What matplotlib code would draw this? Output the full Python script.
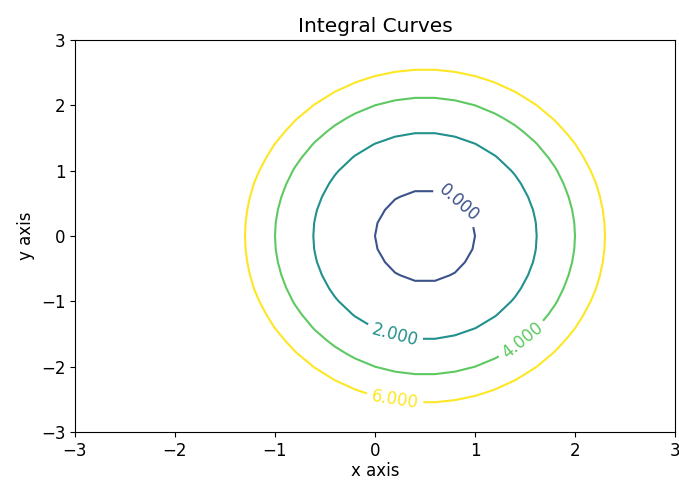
import numpy as np
import matplotlib
matplotlib.use("Agg")
import matplotlib.pyplot as plt
from matplotlib.colors import Normalize

# Grid and contour levels (integral curves of 2x^2 - 2x + y^2 = C)
x_vals = np.linspace(-3, 3, 31)
y_vals = np.linspace(-3, 3, 31)
levels = [0, 2, 4, 6]
coef_x2 = 2.0
coef_x = -2.0
coef_y2 = 1.0
x_ticks = [-3, -2, -1, 0, 1, 2, 3]
y_ticks = [-3, -2, -1, 0, 1, 2, 3]
label_pos = [(0.8, 0.45), (0.2, -1.5), (1.5, -1.65), (0.2, -2.5)]

X, Y = np.meshgrid(x_vals, y_vals)
Z = coef_x2 * X**2 + coef_x * X + coef_y2 * Y**2

fig = plt.figure(figsize=(6.79, 4.84), dpi=100)
ax = fig.add_axes([75/679, 52/484, 600/679, 392/484])
cs = ax.contour(X, Y, Z, levels=levels, cmap='viridis', norm=Normalize(-2, 6))
ax.clabel(cs, inline=True, fmt='%1.3f', fontsize=12, manual=label_pos)
ax.set_xlim(-3, 3)
ax.set_ylim(-3, 3)
ax.set_xticks(x_ticks)
ax.set_yticks(y_ticks)
ax.tick_params(labelsize=12)
ax.set_title('Integral Curves', fontsize=14.5)
ax.set_xlabel('x axis', fontsize=12, labelpad=2)
ax.set_ylabel('y axis', fontsize=12)
fig.savefig('out.png', dpi=100)
